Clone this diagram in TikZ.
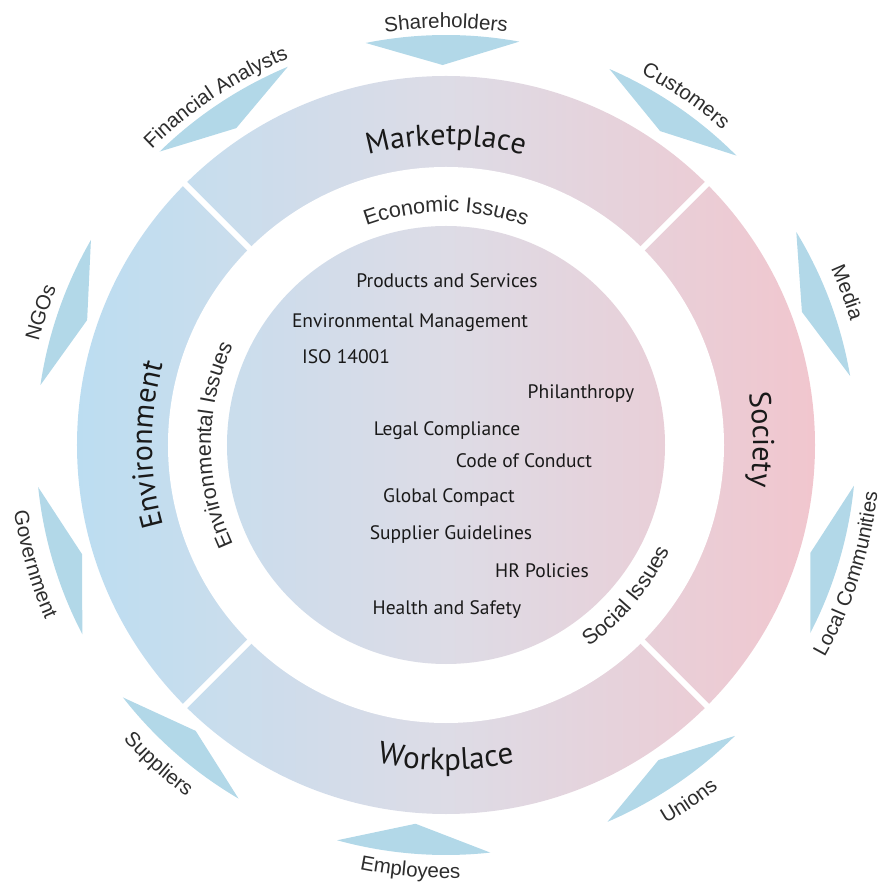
\documentclass[tikz,border=0pt]{standalone}
\usepackage{fontspec}
\setmainfont{Liberation Sans}
\newfontfamily\ptsans{PT Sans}
\usetikzlibrary{decorations.text}

\definecolor{ringblue}{RGB}{188,221,241}
\definecolor{ringgrey}{RGB}{221,220,230}
\definecolor{ringpink}{RGB}{241,198,206}
\definecolor{arrowblue}{RGB}{178,216,232}
\definecolor{labgray}{RGB}{45,45,45}
\definecolor{inkdark}{RGB}{25,25,25}

\newcommand{\outerfont}{\fontsize{20.5}{24}\selectfont}
\newcommand{\issuefont}{\fontsize{21.5}{25}\selectfont}
\newcommand{\bandfont}{\fontsize{30}{36}\selectfont\ptsans}

% chevron pointing to the centre, at angle #1
\newcommand{\stakearrow}[1]{%
  \fill[arrowblue] ({#1+10.8}:410pt) arc[start angle={#1+10.8}, end angle={#1-10.8}, radius=410pt]
    -- (#1:380pt) -- cycle;}
% curved text, clockwise (letters point outwards): angle, radius, colour, text
\newcommand{\cwtext}[4]{%
  \path[decorate, decoration={text along path, text align=center, text color=#3, text={#4}}]
    ({#1+70}:#2) arc[start angle={#1+70}, end angle={#1-70}, radius=#2];}
% curved text, counter clockwise (letters point inwards)
\newcommand{\ccwtext}[4]{%
  \path[decorate, decoration={text along path, text align=center, text color=#3, text={#4}}]
    ({#1-70}:#2) arc[start angle={#1-70}, end angle={#1+70}, radius=#2];}

\tikzset{
  item/.style={font=\fontsize{19.5}{23}\selectfont\ptsans, text=inkdark, inner sep=0pt, anchor=base}
}

\begin{document}
\begin{tikzpicture}
    \useasboundingbox (-446pt,-440pt) rectangle (437pt,445pt);

    % Ring and core
    \shade[left color=ringblue, right color=ringpink, middle color=ringgrey] (0,0) circle[radius=369pt];
    \fill[white] (0,0) circle[radius=278pt];
    \begin{scope}
      \clip (0,0) circle[radius=219pt];
      \shade[left color=ringblue, right color=ringpink, middle color=ringgrey] (-369pt,-369pt) rectangle (369pt,369pt);
    \end{scope}
    \foreach \a in {45,135,225,315}
      \draw[white, line width=6pt] (\a:270pt) -- (\a:375pt);

    % Ring sections
    \cwtext{90}{300pt}{inkdark}{|\bandfont|Marketplace}
    \cwtext{180}{294pt}{inkdark}{|\bandfont|Environment}
    \cwtext{1}{307pt}{inkdark}{|\bandfont|Society}
    \ccwtext{-90}{325pt}{inkdark}{|\bandfont\fontsize{31}{36}\selectfont|Workplace}

    % Issues
    \cwtext{90}{233pt}{labgray}{|\issuefont|Economic Issues}
    \cwtext{180}{235pt}{labgray}{|\issuefont|Environmental Issues}
    \ccwtext{-40}{247pt}{labgray}{|\issuefont|Social Issues}

    % Stakeholders
    \stakearrow{90.5}
    \stakearrow{55.7}
    \stakearrow{20.5}
    \stakearrow{-16.5}
    \stakearrow{-56}
    \stakearrow{-94.6}
    \stakearrow{-131.2}
    \stakearrow{-163.3}
    \stakearrow{160.8}
    \stakearrow{123.5}

    \cwtext{90}{417pt}{labgray}{|\outerfont|Shareholders}
    \cwtext{55.5}{419pt}{labgray}{|\outerfont|Customers}
    \cwtext{20.8}{423pt}{labgray}{|\outerfont|Media}
    \cwtext{161.9}{420pt}{labgray}{|\outerfont|NGOs}
    \cwtext{123.5}{417pt}{labgray}{|\outerfont|Financial Analysts}
    \ccwtext{-17.8}{434pt}{labgray}{|\outerfont|Local Communities}
    \ccwtext{-55.7}{438pt}{labgray}{|\outerfont|Unions}
    \ccwtext{-94.8}{433pt}{labgray}{|\outerfont|Employees}
    \ccwtext{-132}{437pt}{labgray}{|\outerfont|Suppliers}
    \ccwtext{-163.8}{437pt}{labgray}{|\outerfont|Government}

    % Instruments
    \node[item] (prod) at (1pt,157pt) {Products and Services};
    \node[item] (envm) at (-36pt,117pt) {Environmental Management};
    \node[item, anchor=base west] (iso) at (-144pt,81pt) {ISO 14001};
    \node[item] (phil) at (135pt,46pt) {Philanthropy};
    \node[item] (legal) at (1pt,9pt) {Legal Compliance};
    \node[item] (code) at (78pt,-23pt) {Code of Conduct};
    \node[item] (glob) at (3pt,-58pt) {Global Compact};
    \node[item] (supp) at (5pt,-95pt) {Supplier Guidelines};
    \node[item] (hr) at (96pt,-132pt) {HR Policies};
    \node[item] (hs) at (1pt,-169pt) {Health and Safety};
\end{tikzpicture}
\end{document}
